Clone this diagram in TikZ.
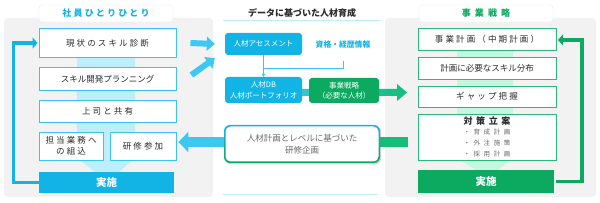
\documentclass[tikz,border=0pt]{standalone}
\usepackage{fontspec}
\setmainfont{Noto Sans CJK JP}
\newfontfamily\jpsp[LetterSpace=25]{Noto Sans CJK JP}
\newfontfamily\jpwide[LetterSpace=55]{Noto Sans CJK JP}
\usetikzlibrary{arrows.meta,shadows,calc}
\definecolor{cyanD}{HTML}{12B4E6}
\definecolor{cyanB}{HTML}{3CC4F0}
\definecolor{cyanL}{HTML}{BDEFFB}
\definecolor{cyanA}{HTML}{3CC8F0}
\definecolor{greenD}{HTML}{0BAA60}
\definecolor{greenB}{HTML}{2BB878}
\definecolor{greenL}{HTML}{C4F7DF}
\definecolor{greenA}{HTML}{12BE78}
\definecolor{teal}{HTML}{38C6CF}
\definecolor{panel}{HTML}{F2F2F2}
\definecolor{txt}{HTML}{2B2B2B}
\definecolor{txtg}{HTML}{6A6A6A}
\begin{document}
\begin{tikzpicture}[x=1pt,y=-1pt,
  lbox/.style={draw=cyanB, line width=0.9pt, fill=white, minimum width=137pt, inner sep=0pt, text=txt, font=\fontsize{8.5}{11}\selectfont, align=center},
  rbox/.style={draw=greenB, line width=0.9pt, fill=white, minimum width=138pt, inner sep=0pt, text=txt, font=\fontsize{8.5}{11}\selectfont, align=center},
  tab/.style={draw=black!8, fill=white, rounded corners=3pt, minimum width=134pt, minimum height=17pt, inner sep=0pt, font=\bfseries\fontsize{9}{10}\selectfont},
  mbox/.style={rounded corners=3pt, minimum width=77pt, inner sep=0pt, text=white, font=\fontsize{7.5}{10.5}\selectfont, align=center},
  thin conn/.style={draw=cyanB, line width=0.8pt},
  loopline/.style={line width=3.5pt, -{Triangle[length=5pt,width=11pt]}},
  fat/.style={draw=cyanA, line width=6pt, -{Triangle[length=8pt,width=14pt]}}
]
\useasboundingbox (0,0) rectangle (600,203);
% panels
\fill[panel, rounded corners=4pt] (4,18) rectangle (213,197);
\fill[panel, rounded corners=4pt] (385,18) rectangle (596,197);
% bands
\fill[cyanL] (77,58) -- (135,58) -- (135,158) -- (119,172) -- (95,172) -- (77,158) -- cycle;
\fill[greenL] (457,50) -- (513,50) -- (513,158) -- (498,170) -- (476,170) -- (457,158) -- cycle;
% titles
\node[tab, text=cyanD] (ltitle) at (106,13.5) {\jpsp 社員ひとりひとり};
\node[tab, text=greenD] (rtitle) at (486,13.5) {\addfontfeature{LetterSpace=45}事業戦略};
\node[font=\bfseries\fontsize{9}{10}\selectfont, text=txt] (mtitle) at (302,13) {データに基づいた人材育成};
\draw[cyanL, line width=1pt] (223,20.5) -- (380,20.5);
\draw[cyanL, line width=1pt] (223,195) -- (378,195);
% left boxes
\node[lbox, minimum height=29pt] (l1) at (107.5,43) {\jpsp 現状のスキル診断};
\node[lbox, minimum height=23pt] (l2) at (107.5,79) {スキル開発プランニング};
\node[lbox, minimum height=22pt] (l3) at (107.5,111) {\jpsp 上司と共有};
\node[lbox, minimum width=64pt, minimum height=28pt] (l4a) at (71,146) {\jpsp 担当業務へ\\\jpsp の組込};
\node[lbox, minimum width=66pt, minimum height=28pt] (l4b) at (143,146) {\jpsp 研修参加};
\node[fill=cyanD, minimum width=135pt, minimum height=21pt, inner sep=0pt, text=white, font=\bfseries\fontsize{10.5}{11}\selectfont] (lexe) at (106.5,182.5) {実施};
% right boxes
\node[rbox, minimum height=22pt] (r1) at (487,39) {\jpsp 事業計画（中期計画）};
\node[rbox, minimum height=22pt] (r2) at (487,68) {計画に必要なスキル分布};
\node[rbox, minimum height=21pt] (r3) at (487,96.5) {\jpsp ギャップ把握};
\node[rbox, minimum height=46pt] (r4) at (487,137) {{\bfseries\fontsize{9}{10}\selectfont\addfontfeature{LetterSpace=40}対策立案}\\[-1pt]
  {\fontsize{6.5}{9.5}\selectfont\color{txtg}\jpwide ・育成計画}\\
  {\fontsize{6.5}{9.5}\selectfont\color{txtg}\jpwide ・外注施策}\\
  {\fontsize{6.5}{9.5}\selectfont\color{txtg}\jpwide ・採用計画}};
\node[fill=greenD, minimum width=136pt, minimum height=23pt, inner sep=0pt, text=white, font=\bfseries\fontsize{10.5}{11}\selectfont] (rexe) at (486,181.5) {実施};
% loops
\draw[loopline, cyanD] (lexe.west) -- (13.5,182.5) -- (13.5,43) -- ($(l1.west)+(-1,0)$);
\draw[loopline, greenD] ($(rexe.east)+(2,0)$) -- (582,181.5) -- (582,40) -- ($(r1.east)+(1.5,1)$);
% middle: gradient arrow
\shade[left color=teal, right color=greenA] (300,89) -- (397,89) -- (397,84) -- (407,92.5) -- (397,101) -- (397,96) -- (300,96) -- cycle;
% middle boxes
\node[mbox, fill=cyanD, minimum height=22pt] (assess) at (263.5,44) {人材アセスメント};
\node[text=cyanD, font=\bfseries\fontsize{7.8}{9}\selectfont] (qual) at (343,45) {資格・経歴情報};
\node[mbox, fill=cyanD, minimum height=26pt] (db) at (263.5,90) {人材DB\\人材ポートフォリオ};
\node[mbox, fill=greenD, minimum width=70pt, minimum height=25pt] (strat) at (344,90.5) {事業戦略\\（必要な人材）};
% thin connectors
\coordinate (j) at (assess.south |- 0,68);
\draw[thin conn] ($(qual.south)+(0,9)$) |- (j);
\draw[thin conn, -{Triangle[length=3pt,width=3.5pt]}] (assess.south) -- (db.north);
% fat arrows into assessment
\draw[fat] ($(l1.east)+(14,0)$) -- ($(assess.west)+(-10,0)$);
\draw[fat] ($(l2.east)+(15,-4)$) -- ($(assess.south west)+(-10,3)$);
% plan box position and bottom arrows (drawn beneath the box)
\coordinate (pc) at (302,144);
\draw[draw=cyanA, line width=10pt, -{Triangle[length=10pt,width=20pt]}] ($(pc)+(-70,-2)$) -- ($(l4b.east)+(2,-4)$);
\fill[greenA] ($(pc)+(70,-7)$) rectangle (408,147);
\node[minimum width=156pt, minimum height=38pt, rounded corners=6pt, top color=cyanD, bottom color=greenD, drop shadow={opacity=0.35, shadow xshift=1.2pt, shadow yshift=-1.2pt}] (planbg) at (pc) {};
\node[fill=white, rounded corners=5pt, minimum width=153pt, minimum height=35pt, inner sep=0pt, text=txtg, font=\fontsize{8.5}{12}\selectfont, align=center] (plan) at (planbg.center) {人材計画とレベルに基づいた\\研修企画};
\end{tikzpicture}
\end{document}
